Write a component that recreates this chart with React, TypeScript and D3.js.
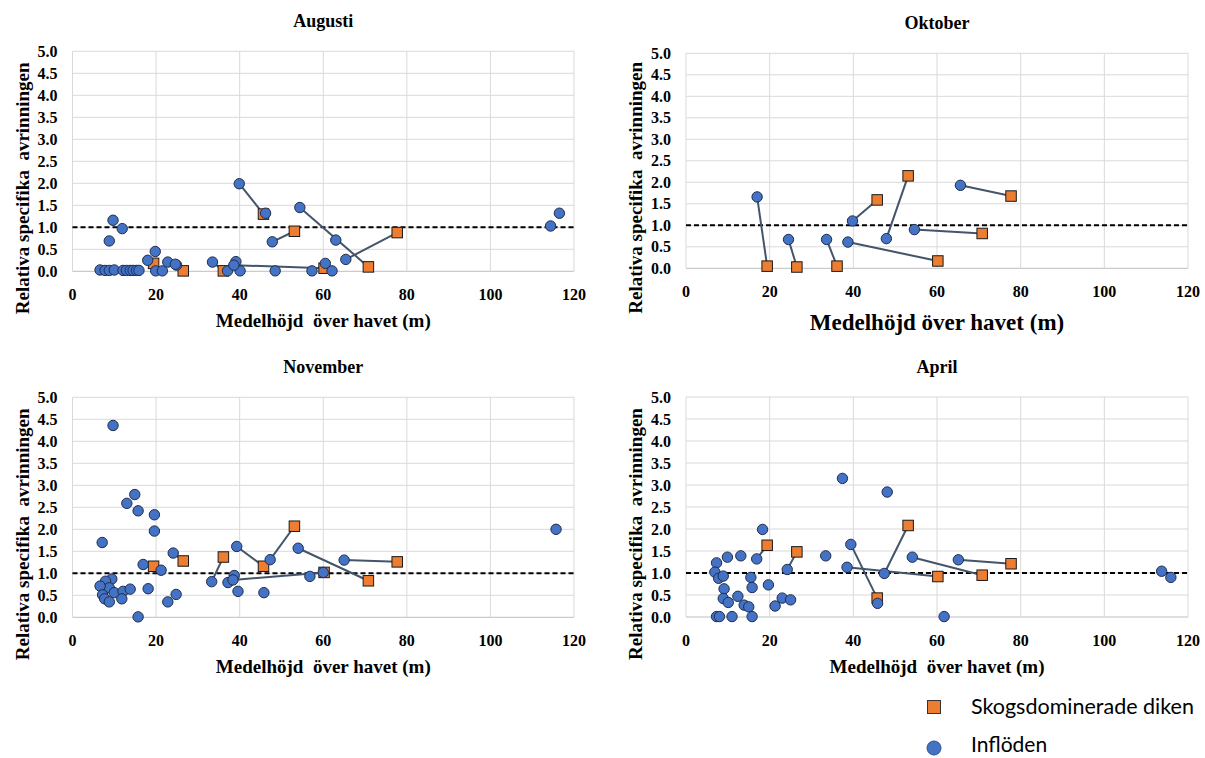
import React from 'react';
import * as d3 from 'd3';

// Elevation (m) of the eight forest-dominated ditches (shared by all months)
const ditchElev = [19.4, 26.5, 36.1, 45.7, 53.1, 60.2, 70.8, 77.7];

// Elevation of the inflow each ditch is paired with, per month
const augLinkX = [18.0, 24.6, 33.5, 39.9, 47.8, 38.6, 54.4, 65.4];
const octLinkX = [17.0, 24.5, 33.6, 39.8, 47.9, 38.7, 54.6, 65.6];
const novLinkX = [16.9, 24.1, 33.3, 39.3, 47.3, 38.4, 54.0, 65.0];
const aprLinkX = [16.9, 24.2, 33.4, 39.4, 47.4, 38.5, 54.1, 65.1];

// Relative specific runoff of the ditches
const augDitchY = [0.18, 0.01, 0.01, 1.30, 0.91, 0.07, 0.10, 0.88];
const octDitchY = [0.05, 0.03, 0.05, 1.59, 2.15, 0.17, 0.81, 1.68];
const novDitchY = [1.16, 1.28, 1.37, 1.16, 2.07, 1.02, 0.83, 1.26];
const aprDitchY: (number | null)[] = [1.63, 1.48, null, 0.43, 2.08, 0.92, 0.95, 1.21];

// Relative specific runoff of the paired inflows
const augLinkY = [0.25, 0.16, 0.21, 1.99, 0.67, 0.14, 1.45, 0.27];
const octLinkY = [1.66, 0.67, 0.67, 1.10, 0.69, 0.61, 0.90, 1.93];
const novLinkY = [1.20, 1.46, 0.81, 1.61, 1.31, 0.85, 1.57, 1.30];
const aprLinkY = [1.32, 1.08, 1.39, 1.65, 0.99, 1.13, 1.36, 1.30];

// Remaining inflows (not paired with a ditch)
const augOtherX = [6.6, 7.8, 8.8, 10.0, 12.1, 12.9, 13.8, 14.5, 15.3, 15.9, 9.7, 11.9, 8.8, 19.8, 19.9, 21.5, 22.8, 24.9, 37.1, 39.1, 40.1, 46.2, 48.5, 57.3, 60.5, 62.1, 63.0, 114.4, 116.5];
const augOtherY = [0.03, 0.02, 0.02, 0.03, 0.02, 0.02, 0.02, 0.02, 0.02, 0.02, 1.16, 0.97, 0.69, 0.45, 0.01, 0.01, 0.21, 0.14, 0.01, 0.22, 0.01, 1.32, 0.01, 0.01, 0.18, 0.01, 0.71, 1.03, 1.32];

const octOtherX: number[] = [];
const octOtherY: number[] = [];

const novOtherX = [9.7, 14.9, 13.0, 15.7, 19.6, 19.6, 7.1, 21.2, 9.4, 7.9, 8.8, 6.6, 10.0, 7.2, 7.7, 8.8, 12.1, 13.8, 11.8, 18.1, 15.7, 22.8, 24.8, 37.2, 38.7, 39.6, 45.8, 56.8, 60.0, 115.7];
const novOtherY = [4.36, 2.79, 2.59, 2.42, 2.33, 1.96, 1.70, 1.07, 0.87, 0.82, 0.67, 0.71, 0.56, 0.51, 0.42, 0.35, 0.59, 0.64, 0.42, 0.65, 0.01, 0.35, 0.52, 0.79, 0.95, 0.59, 0.56, 0.93, 1.02, 2.00];

const aprOtherX = [37.4, 48.1, 18.3, 45.8, 61.7, 113.7, 115.9, 7.3, 9.9, 13.1, 6.9, 7.8, 8.9, 9.1, 15.5, 15.8, 19.7, 8.9, 10.1, 12.4, 13.9, 15.0, 21.3, 23.0, 25.0, 7.3, 8.0, 11.0, 15.8];
const aprOtherY = [3.15, 2.84, 1.99, 0.31, 0.01, 1.04, 0.90, 1.23, 1.36, 1.39, 1.02, 0.88, 0.93, 0.64, 0.90, 0.67, 0.73, 0.42, 0.33, 0.47, 0.27, 0.23, 0.25, 0.43, 0.39, 0.01, 0.01, 0.01, 0.01];

const xTickValues = [0, 20, 40, 60, 80, 100, 120];
const yTickValues = [0, 0.5, 1, 1.5, 2, 2.5, 3, 3.5, 4, 4.5, 5];
const referenceLevel = 1.0;

const panelTitles = ['Augusti', 'Oktober', 'November', 'April'];
const xAxisTitle = 'Medelhöjd  över havet (m)';
const xAxisTitleWide = 'Medelhöjd över havet (m)';
const yAxisTitle = 'Relativa specifika  avrinningen';
const legendLabels = ['Skogsdominerade diken', 'Inflöden'];

const SERIF = '"Liberation Serif", "Times New Roman", serif';
const SANS = 'Lato, "Open Sans", sans-serif';
const BLUE = '#4472C4';
const ORANGE = '#ED7D31';
const LINK = '#44546A';
const GRID = '#D9D9D9';

type Month = {
  title: string;
  linkX: number[];
  ditchY: (number | null)[];
  linkY: number[];
  otherX: number[];
  otherY: number[];
  xTitle: string;
  xTitleSize: number;
};

type Box = { left: number; right: number; top: number; bottom: number };

function Panel({ m, box }: { m: Month; box: Box }) {
  const x = d3.scaleLinear().domain([0, 120]).range([box.left, box.right]);
  const y = d3.scaleLinear().domain([0, 5]).range([box.bottom, box.top]);
  const fmt = d3.format('.1f');
  const cx = (box.left + box.right) / 2;
  const cy = (box.top + box.bottom) / 2;
  const r = 5.2;
  const s = 10.5;

  return (
    <g>
      {/* grid */}
      {yTickValues.map((v) => (
        <line key={'h' + v} x1={box.left} x2={box.right} y1={y(v)} y2={y(v)}
          stroke={v === 0 ? '#BFBFBF' : GRID} strokeWidth={1} />
      ))}
      {xTickValues.map((v) => (
        <line key={'v' + v} x1={x(v)} x2={x(v)} y1={box.top} y2={box.bottom}
          stroke={GRID} strokeWidth={1} />
      ))}
      {/* reference line */}
      <line x1={box.left} x2={box.right} y1={y(referenceLevel)} y2={y(referenceLevel)}
        stroke="#000" strokeWidth={2} strokeDasharray="5,3" />
      {/* tick labels */}
      {yTickValues.map((v) => (
        <text key={'yt' + v} x={box.left - 15} y={y(v) + 5.5} textAnchor="end"
          fontFamily={SERIF} fontWeight="bold" fontSize={16} fill="#000">{fmt(v)}</text>
      ))}
      {xTickValues.map((v) => (
        <text key={'xt' + v} x={x(v)} y={box.bottom + 29} textAnchor="middle"
          fontFamily={SERIF} fontWeight="bold" fontSize={16} fill="#000">{v}</text>
      ))}
      {/* titles */}
      <text x={cx} y={box.top - 24} textAnchor="middle" fontFamily={SERIF} fontWeight="bold"
        fontSize={18} fill="#000">{m.title}</text>
      <text x={cx} y={box.bottom + (m.xTitleSize > 20 ? 62 : 56)} textAnchor="middle" fontFamily={SERIF}
        fontWeight="bold" fontSize={m.xTitleSize} fill="#000" style={{ whiteSpace: 'pre' }}>{m.xTitle}</text>
      <text transform={`translate(${box.left - 44},${cy + 27}) rotate(-90)`} textAnchor="middle"
        fontFamily={SERIF} fontWeight="bold" fontSize={19} fill="#000" style={{ whiteSpace: 'pre' }}>{yAxisTitle}</text>
      {/* ditch–inflow connectors */}
      {ditchElev.map((dx, i) => {
        const dy = m.ditchY[i];
        if (dy === null) return null;
        return (
          <line key={'l' + i} x1={x(m.linkX[i])} y1={y(m.linkY[i])} x2={x(dx)} y2={y(dy)}
            stroke={LINK} strokeWidth={2} />
        );
      })}
      {/* ditches */}
      {ditchElev.map((dx, i) => {
        const dy = m.ditchY[i];
        if (dy === null) return null;
        return (
          <rect key={'d' + i} x={x(dx) - s / 2} y={y(dy) - s / 2} width={s} height={s}
            fill={ORANGE} stroke="#1a1a1a" strokeWidth={1} />
        );
      })}
      {/* inflows */}
      {m.otherX.map((ox, i) => (
        <circle key={'o' + i} cx={x(ox)} cy={y(m.otherY[i])} r={r} fill={BLUE}
          stroke="#1F2D4D" strokeWidth={1} />
      ))}
      {m.linkX.map((lx, i) => (
        <circle key={'c' + i} cx={x(lx)} cy={y(m.linkY[i])} r={r} fill={BLUE}
          stroke="#1F2D4D" strokeWidth={1} />
      ))}
    </g>
  );
}

const months: Month[] = [
  { title: panelTitles[0], linkX: augLinkX, ditchY: augDitchY, linkY: augLinkY, otherX: augOtherX, otherY: augOtherY, xTitle: xAxisTitle, xTitleSize: 19 },
  { title: panelTitles[1], linkX: octLinkX, ditchY: octDitchY, linkY: octLinkY, otherX: octOtherX, otherY: octOtherY, xTitle: xAxisTitleWide, xTitleSize: 23 },
  { title: panelTitles[2], linkX: novLinkX, ditchY: novDitchY, linkY: novLinkY, otherX: novOtherX, otherY: novOtherY, xTitle: xAxisTitle, xTitleSize: 19 },
  { title: panelTitles[3], linkX: aprLinkX, ditchY: aprDitchY, linkY: aprLinkY, otherX: aprOtherX, otherY: aprOtherY, xTitle: xAxisTitle, xTitleSize: 19 },
];

const boxes: Box[] = [
  { left: 72.5, right: 574, top: 51.3, bottom: 271.3 },
  { left: 686, right: 1188, top: 53.3, bottom: 268.3 },
  { left: 72.5, right: 574, top: 397.3, bottom: 617.3 },
  { left: 686, right: 1188, top: 397, bottom: 617 },
];

export default function App() {
  return (
    <svg width={1205} height={758} style={{ position: 'absolute', left: 0, top: 0, background: '#fff' }}>
      <rect x={0} y={0} width={1205} height={758} fill="#fff" />
      {months.map((m, i) => (
        <Panel key={m.title} m={m} box={boxes[i]} />
      ))}
      {/* legend */}
      <rect x={934 - 6.5} y={707 - 6.5} width={13} height={13} fill={ORANGE} stroke="#333" strokeWidth={1} />
      <text x={971} y={714} fontFamily={SANS} fontSize={21.5} fill="#000">{legendLabels[0]}</text>
      <circle cx={934} cy={748} r={7} fill={BLUE} stroke="#2F528F" strokeWidth={1} />
      <text x={971} y={752} fontFamily={SANS} fontSize={21} fill="#000">{legendLabels[1]}</text>
    </svg>
  );
}
